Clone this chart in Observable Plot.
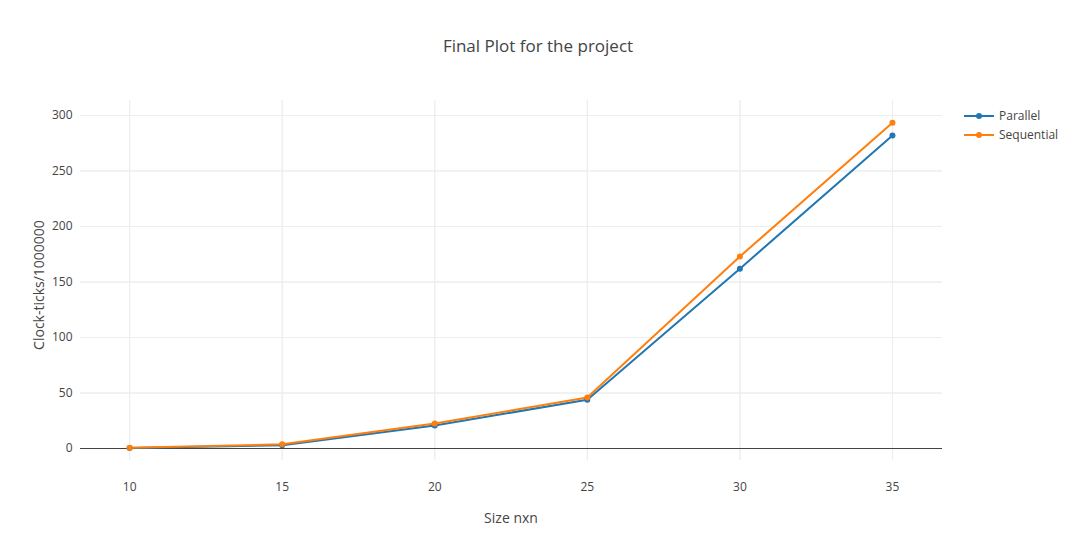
<!DOCTYPE html>
<html><head><meta charset="utf-8">
<script src="https://cdn.jsdelivr.net/npm/d3@7"></script>
<script src="https://cdn.jsdelivr.net/npm/@observablehq/plot@0.6"></script>
<style>
body{margin:0;background:#fff;font-family:"Open Sans",sans-serif;color:#444}
#wrap{position:relative;width:1076px;height:550px}
.t{position:absolute;white-space:nowrap}
.leg{position:absolute;left:964px;font-size:12px;display:flex;align-items:center}
.leg svg{margin-right:5px}
</style></head><body>
<div id="wrap">
<div class="t" style="left:0;width:1076px;text-align:center;top:34px;font-size:17px">Final Plot for the project</div>
<div class="t" style="left:0;width:1022px;text-align:center;top:508px;font-size:14px">Size nxn</div>
<div class="t" style="left:38px;top:285px;font-size:14px;transform:translate(-50%,-50%) rotate(-90deg)">Clock-ticks/1000000</div>
<div class="leg" style="top:107px"><svg width="30" height="10"><line x1="0" x2="30" y1="5" y2="5" stroke="#1f77b4" stroke-width="2"/><circle cx="15" cy="5" r="3" fill="#1f77b4"/></svg>Parallel</div>
<div class="leg" style="top:126px"><svg width="30" height="10"><line x1="0" x2="30" y1="5" y2="5" stroke="#ff7f0e" stroke-width="2"/><circle cx="15" cy="5" r="3" fill="#ff7f0e"/></svg>Sequential</div>
<div id="chart" style="position:absolute;left:0;top:0"></div>
</div>
<script>
const sizes = [10, 15, 20, 25, 30, 35];
const parallel = [0.5, 3, 20.7, 44, 162, 282];
const sequential = [0.6, 3.8, 22.5, 46, 173, 293.5];
const xTicks = [10, 15, 20, 25, 30, 35];
const yTicks = [0, 50, 100, 150, 200, 250, 300];

const rows = [];
sizes.forEach((s, i) => {
  rows.push({size: s, value: parallel[i], series: "Parallel"});
  rows.push({size: s, value: sequential[i], series: "Sequential"});
});

const fig = Plot.plot({
  width: 1076, height: 550,
  marginLeft: 80, marginRight: 134, marginTop: 100, marginBottom: 90,
  style: {fontFamily: "Open Sans, sans-serif", fontSize: "12px", color: "#444"},
  x: {domain: [8.39, 36.64], ticks: xTicks, tickSize: 0, tickPadding: 22, label: null, grid: true},
  y: {domain: [-10.8, 313.5], ticks: yTicks, tickSize: 0, tickPadding: 8, label: null, grid: true},
  color: {domain: ["Parallel", "Sequential"], range: ["#1f77b4", "#ff7f0e"]},
  marks: [
    Plot.gridX(xTicks, {stroke: "#eee", strokeOpacity: 1}),
    Plot.gridY(yTicks, {stroke: "#eee", strokeOpacity: 1}),
    Plot.ruleY([0], {stroke: "#444", strokeWidth: 1}),
    Plot.line(rows, {x: "size", y: "value", z: "series", stroke: "series", strokeWidth: 2}),
    Plot.dot(rows, {x: "size", y: "value", fill: "series", r: 3})
  ]
});
document.getElementById("chart").append(fig);
</script>
</body></html>
